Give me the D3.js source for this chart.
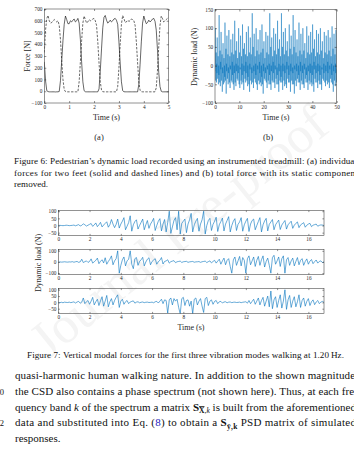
<!DOCTYPE html>
<html>
<head>
<meta charset="utf-8">
<script src="https://cdn.jsdelivr.net/npm/d3@7"></script>
<style>
  body { margin: 0; background: #fff; }
  svg { display: block; }
  text { font-family: "Liberation Serif", "DejaVu Serif", serif; }
</style>
</head>
<body>
<script>
// ---- Figure 6a: foot forces [N], sampled every 0.05 s from 0 to 5 s
const footStep = 0.05;
const footSolid = [250, 90, 5, -3, -5, -5, -5, -5, -5, -6, -5, -5, -2, 90, 260, 430, 570, 640, 610, 575,
  575, 600, 590, 605, 615, 590, 600, 620, 580, 440, 250, 80, 5, -4, -5, -5, -5, -5, -5, -5,
  -5, -5, -5, -5, 20, 170, 360, 540, 630, 645, 605, 580, 590, 605, 590, 600, 615, 620, 605, 570,
  420, 240, 80, 5, -4, -5, -5, -5, -5, -5, -5, -5, -5, -5, -5, -5, 60, 230, 420, 580,
  640, 605, 575, 585, 605, 590, 600, 615, 620, 595, 520, 350, 160, 40, 0, -5, -5, -5, -5, -5, -5];
const footDashed = [330, 520, 620, 645, 600, 580, 585, 600, 610, 600, 590, 600, 560, 440, 260, 100, 15, -3, -5, -5,
  -5, -5, -5, -5, -5, -5, -5, -5, 80, 250, 430, 580, 640, 610, 580, 590, 610, 600, 605, 615,
  620, 600, 560, 420, 240, 80, 10, -4, -5, -5, -5, -5, -5, -5, -5, -5, -5, -5, -5, 40,
  200, 400, 570, 645, 620, 585, 590, 605, 595, 600, 615, 610, 600, 560, 420, 240, 80, 8, -4, -5,
  -5, -5, -5, -5, -5, -5, -5, -5, -5, -5, 30, 180, 380, 560, 640, 620, 590, 600, 610, 620, 630];
const forceTicks = [-100, 0, 100, 200, 300, 400, 500, 600, 700];
const footTimeTicks = [0, 1, 2, 3, 4, 5];

// ---- Figure 6b: total dynamic load [N], sampled every 0.1 s from 0 to 50 s
const totalStep = 0.1;
const totalLoad = [
  -15, 100, 20, -40, -10, 35, -45, 5,   -20, 75, 10, -35, -15, 25, -50, 0,
  -25, 135, 15, -45, -20, 40, -55, 10,  -10, 90, 25, -40, -5, 30, -70, -5,
  -20, 60, 5, -50, -15, 20, -45, 0,     -30, 115, 20, -40, -10, 45, -75, 5,
  -15, 80, 10, -35, -20, 30, -50, -5,   -20, 95, 15, -45, -10, 25, -60, 0,
  -10, 70, 20, -40, -15, 35, -45, 10,   -25, 85, 10, -50, -20, 30, -65, 0,
  -20, 120, 25, -45, -5, 40, -55, 5,    -15, 65, 5, -35, -15, 20, -40, 0,
  -20, 100, 20, -50, -10, 35, -60, -5,  -10, 80, 15, -40, -20, 25, -50, 5,
  -25, 110, 25, -45, -10, 45, -65, 0,   -15, 60, 10, -35, -15, 30, -45, 10,
  -20, 90, 15, -40, -5, 25, -55, 0,     -30, 105, 20, -50, -15, 35, -70, 5,
  -10, 75, 10, -40, -20, 30, -50, -5,   -20, 140, 25, -45, -10, 50, -60, 0,
  -15, 85, 15, -35, -15, 25, -45, 5,    -25, 100, 20, -50, -5, 40, -65, 0,
  -10, 70, 10, -40, -20, 30, -50, 10,   -20, 95, 20, -45, -10, 35, -55, 0,
  -30, 110, 15, -50, -15, 45, -75, 5,   -15, 65, 10, -35, -10, 20, -40, -5,
  -20, 90, 25, -45, -20, 35, -60, 0,    -10, 80, 15, -40, -5, 30, -50, 5,
  -25, 140, 20, -50, -15, 50, -65, 0,   -15, 75, 10, -40, -10, 25, -45, 10,
  -20, 100, 20, -45, -20, 40, -60, 0,   -10, 85, 15, -35, -5, 30, -50, -5,
  -25, 120, 25, -50, -15, 45, -70, 5,   -15, 70, 5, -40, -10, 25, -45, 0,
  -30, 140, 20, -45, -20, 50, -65, 5,   -15, 90, 15, -40, -10, 30, -55, 0,
  -20, 100, 20, -50, -15, 40, -60, 10,  -10, 65, 10, -35, -5, 25, -45, 0,
  -25, 110, 25, -45, -20, 45, -70, 5,   -15, 80, 15, -40, -10, 30, -50, -5,
  -20, 135, 20, -50, -15, 50, -75, 0,   -10, 95, 10, -40, -5, 35, -55, 5,
  -15, 70, 15, -35, -20, 25, -45, 0,    -25, 115, 25, -45, -10, 40, -65, 10,
  -15, 85, 10, -40, -15, 30, -50, 0,    -20, 100, 20, -50, -5, 40, -60, 5,
  -10, 60, 5, -35, -15, 20, -45, -5,    -25, 105, 20, -45, -10, 35, -65, 0,
  -15, 80, 15, -40, -20, 30, -50, 5,    -20, 90, 20, -45, -10, 35, -55, 0,
  -25, 110, 25, -50, -15, 45, -70, 10,  -10, 70, 10, -35, -5, 25, -45, 0,
  -20, 95, 15, -45, -20, 35, -60, 5,    -15, 85, 20, -40, -10, 30, -50, 0,
  -25, 100, 25, -50, -15, 40, -65, -5,  -10, 65, 10, -35, -5, 20, -40, 5,
  -20, 90, 15, -45, -20, 35, -55, 0,    -15, 80, 20, -40, -10, 30, -50, 10,
  -20, 95, 15, -45, -15, 40, -60, 0,    -10, 75, 10, -35, -5, 25, -45, 5,
  -25, 105, 25, -50, -20, 45, -70, 0,   -15, 85, 15, -40, -10, 30, -55, 5,
  -20, 95, 20, -45, -10];
const dynTicks = [-100, -50, 0, 50, 100, 150];
const totalTimeTicks = [0, 10, 20, 30, 40, 50];

// ---- Figure 7: modal forces [N], sampled every 0.1 s from 0 to 17 s
const modalStep = 0.1;
const mode1 = [
  0, 1, 0, -1, 0, 2, 1, -1, 0, 1,
  3, -2, 2, 6, -3, 1, 12, 5, -4, 2,
  8, 14, -6, 4, 18, -8, 5, 22, -10, 3,
  15, 26, -12, 6, 42, 10, -15, 8, 45, -18,
  10, 30, 55, -30, -5, 20, 68, -40, 5, 28,
  40, -25, 0, 22, 45, -30, 5, 35, -20, 10,
  28, 50, -35, 0, 30, 48, -38, 10, 42, -45,
  20, 100, -55, -10, 35, 55, -30, 100, -60, 15,
  30, 45, -50, 10, 40, 85, -45, 5, 30, 50,
  -40, 10, 40, 100, -60, 0, 35, 50, -35, 8,
  30, 58, -42, 5, 28, 52, -38, 10, 35, 62,
  -45, 0, 30, 48, -35, 8, 25, 55, -40, 5,
  30, 50, -42, 10, 35, 45, -30, 0, 28, 55,
  -45, 5, 32, 50, -38, 8, 25, 42, -30, 5,
  22, 38, -28, 3, 20, 35, -25, 5, 18, 30,
  -20, 2, 15, 25, -15, 4, 12, 20, -12, 2,
  10, 15, -8, 2, 6, 10, -5, 1, 4, 3,
  0];
const mode2 = [
  0, 1, -1, 0, 2, 0, -1, 1, 0, 3,
  -2, 2, 5, -3, 1, 25, -5, 3, 10, -4,
  5, 28, -10, 2, 15, 35, -15, 6, 20, -8,
  38, -20, 5, 25, 55, -25, 10, 30, 100, -100,
  -30, 20, 45, -35, 10, 25, 100, -20, -60, 30,
  40, -30, 5, 20, 42, -35, 0, 25, 38, -25,
  5, 18, 30, -20, 3, 15, 40, -18, 5, 10,
  20, -10, 3, 8, 12, -6, 2, 5, 8, -4,
  2, 4, 6, -3, 1, 3, 5, -2, 1, 2,
  4, -3, 2, 5, 8, -5, 3, 10, -8, 5,
  15, -10, 8, 25, -20, 10, 35, -25, 15, 30,
  -40, -100, 20, 45, -30, 10, 50, -35, 40, 15,
  -100, 30, 55, -25, 10, 45, -40, 15, 50, -30,
  20, 55, -45, 5, 35, -30, -100, 40, 60, -20,
  10, 45, -40, 30, 55, -100, 20, 40, -30, 10,
  35, -35, 5, 40, -25, 15, 30, -30, 5, 28,
  -20, 8, 22, -15, 3, 18, -10, 5, 10, -5,
  2];
const mode3 = [
  0, -2, 1, -3, 2, 0, -1, 2, -2, 1,
  4, -5, 3, 8, -6, 2, 35, -10, 5, 15,
  -15, 10, 40, -20, 5, 25, -25, 12, 45, -30,
  10, 55, -35, 5, 30, -20, 15, 40, 60, -40,
  10, 25, -15, 5, 15, -10, 3, 8, 12, -6,
  2, 5, -3, 1, 3, -2, 1, 2, -1, 0,
  2, -3, 5, 8, -5, 10, 25, -10, 20, 15,
  -85, 20, 35, -20, 30, 10, 25, -40, -90, 30,
  40, -25, 15, 20, -30, 10, -90, 25, 35, -20,
  10, 30, -30, -80, 30, 40, -25, 10, 20, -15,
  8, 15, -10, 5, 8, -5, 3, 5, -3, 2,
  3, -2, 1, 2, -1, 0, 2, -2, 1, 3,
  5, -6, 15, -10, 8, 25, -15, 10, 35, -20,
  15, 40, -30, 10, 50, -35, 90, -50, 20, 45,
  -40, 15, 60, -45, 10, 100, -55, 20, 55, -40,
  10, 45, -35, 5, 60, -40, 15, 35, -30, 8,
  30, -25, 5, 20, -18, 3, 15, -10, 2, 8,
  0];
const modalTimeTicks = [0, 2, 4, 6, 8, 10, 12, 14, 16];
const modeTicks = [[-50, 0, 50, 100], [-100, 0, 100], [-50, 0, 50, 100]];
const modeDomains = [[-70, 105], [-112, 112], [-88, 110]];

// ---- page
const W = 354, H = 464;
const ink = "#262626", matBlue = "#0072BD";
const intFmt = d3.format("d");

const svg = d3.select("body").append("svg")
  .attr("width", W).attr("height", H)
  .style("background", "#fff");

// faint watermark behind the page
svg.append("text")
  .attr("transform", "translate(182,236) rotate(-39)")
  .attr("text-anchor", "middle")
  .attr("dominant-baseline", "middle")
  .style("font-size", "52px")
  .style("fill", "#f4f4f4")
  .text("Journal Pre-proof");

const defs = svg.append("defs");
let clipCount = 0;

// MATLAB-like box axes with inward ticks on all four sides
function boxAxes(g, x, y, xTicks, yTicks, tickLen, fontSize) {
  const [xl, xr] = x.range(), [yb, yt] = y.range();
  const style = sel => {
    sel.select(".domain").remove();
    sel.selectAll("line").attr("stroke", ink).attr("stroke-width", 0.5);
    sel.attr("font-family", null).attr("font-size", null);
    sel.selectAll("text").style("font-size", fontSize + "px").attr("fill", ink);
  };
  g.append("g").attr("transform", `translate(0,${yb})`)
    .call(d3.axisBottom(x).tickValues(xTicks).tickFormat(intFmt).tickSize(-tickLen).tickPadding(2.2)).call(style);
  g.append("g").attr("transform", `translate(0,${yt})`)
    .call(d3.axisTop(x).tickValues(xTicks).tickSize(-tickLen).tickFormat("")).call(style);
  g.append("g").attr("transform", `translate(${xl},0)`)
    .call(d3.axisLeft(y).tickValues(yTicks).tickFormat(intFmt).tickSize(-tickLen).tickPadding(1.8)).call(style);
  g.append("g").attr("transform", `translate(${xr},0)`)
    .call(d3.axisRight(y).tickValues(yTicks).tickSize(-tickLen).tickFormat("")).call(style);
  g.append("rect")
    .attr("x", xl).attr("y", yt).attr("width", xr - xl).attr("height", yb - yt)
    .attr("fill", "none").attr("stroke", ink).attr("stroke-width", 0.5);
}

function clipFor(x, y) {
  const id = "clip" + (clipCount++);
  const [xl, xr] = x.range(), [yb, yt] = y.range();
  defs.append("clipPath").attr("id", id).append("rect")
    .attr("x", xl).attr("y", yt).attr("width", xr - xl).attr("height", yb - yt);
  return `url(#${id})`;
}

function series(g, values, step, x, y, clip) {
  const line = d3.line().x((d, i) => x(i * step)).y(d => y(d));
  return g.append("path").datum(values)
    .attr("clip-path", clip).attr("fill", "none").attr("d", line);
}

function label(text, x, y, size, rotate) {
  return svg.append("text")
    .attr("transform", `translate(${x},${y})` + (rotate ? " rotate(-90)" : ""))
    .attr("text-anchor", "middle").attr("fill", ink)
    .style("font-size", size + "px").text(text);
}

// ---- Figure 6a
{
  const g = svg.append("g");
  const x = d3.scaleLinear().domain([0, 5]).range([44.3, 168.7]);
  const y = d3.scaleLinear().domain([-100, 700]).range([103, 9]);
  const clip = clipFor(x, y);
  series(g, footSolid, footStep, x, y, clip).attr("stroke", "#000").attr("stroke-width", 0.6);
  series(g, footDashed, footStep, x, y, clip).attr("stroke", "#000").attr("stroke-width", 0.6)
    .attr("stroke-dasharray", "2.4,1.4");
  boxAxes(g, x, y, footTimeTicks, forceTicks, 2, 5.3);
  label("Time (s)", 106.5, 119.5, 8);
  label("Force [N]", 29.5, 56, 8, true);
  label("(a)", 99, 140, 8.5);
}

// ---- Figure 6b
{
  const g = svg.append("g");
  const x = d3.scaleLinear().domain([0, 50]).range([215, 336.7]);
  const y = d3.scaleLinear().domain([-100, 150]).range([103, 9.5]);
  const clip = clipFor(x, y);
  series(g, totalLoad, totalStep, x, y, clip).attr("stroke", matBlue).attr("stroke-width", 0.45);
  boxAxes(g, x, y, totalTimeTicks, dynTicks, 2, 5.3);
  label("Time (s)", 276, 119.5, 8);
  label("Dynamic load (N)", 196.5, 57, 8, true);
  label("(b)", 268, 140, 8.5);
}

// ---- Figure 6 caption
const capFont = 9.1;
function textLine(str, x, y, size, len) {
  const t = svg.append("text").attr("x", x).attr("y", y).attr("fill", "#111")
    .style("font-size", size + "px").text(str);
  if (len) t.attr("textLength", len).attr("lengthAdjust", "spacing");
  return t;
}
textLine("Figure 6: Pedestrian\u2019s dynamic load recorded using an instrumented treadmill: (a) individual", 14, 164, capFont, 343);
textLine("forces for two feet (solid and dashed lines) and (b) total force with its static component", 14, 175.5, capFont, 344);
textLine("removed.", 14, 187, capFont);

// ---- Figure 7
{
  const modes = [mode1, mode2, mode3];
  const tops = [210.5, 249.5, 288.5];
  const x = d3.scaleLinear().domain([0, 17]).range([58.3, 324]);
  modes.forEach((m, k) => {
    const g = svg.append("g");
    const y = d3.scaleLinear().domain(modeDomains[k]).range([tops[k] + 25, tops[k]]);
    const clip = clipFor(x, y);
    series(g, m, modalStep, x, y, clip).attr("stroke", matBlue).attr("stroke-width", 0.6);
    boxAxes(g, x, y, modalTimeTicks, modeTicks[k], 1.6, 5.3);
  });
  label("Time (s)", 191, 330, 8);
  label("Dynamic load (N)", 40.5, 263, 8, true);
}

textLine("Figure 7: Vertical modal forces for the first three vibration modes walking at 1.20\u2009Hz.", 27, 357.5, capFont, 317);

// ---- body text
const bodyFont = 11;
const bodyY = [379, 394.8, 410.6, 426.4, 442.2];
textLine("quasi-harmonic human walking nature. In addition to the shown magnitude,", 15, bodyY[0], bodyFont, 343);
textLine("the CSD also contains a phase spectrum (not shown here). Thus, at each fre-", 15, bodyY[1], bodyFont, 343);
{
  const t = svg.append("text").attr("x", 15).attr("y", bodyY[2]).attr("fill", "#111")
    .style("font-size", bodyFont + "px").attr("textLength", 341).attr("lengthAdjust", "spacing");
  t.append("tspan").text("quency band ");
  t.append("tspan").style("font-style", "italic").text("k");
  t.append("tspan").text(" of the spectrum a matrix ");
  t.append("tspan").style("font-weight", "bold").text("S");
  t.append("tspan").attr("dy", 2.5).style("font-size", "7.5px").style("font-weight", "bold")
    .style("text-decoration", "overline").text("X");
  t.append("tspan").style("font-size", "7.5px").text(",");
  t.append("tspan").style("font-size", "7.5px").style("font-style", "italic").text("k");
  t.append("tspan").attr("dy", -2.5).text(" is built from the aforementioned");
}
{
  const t = svg.append("text").attr("x", 15).attr("y", bodyY[3]).attr("fill", "#111")
    .style("font-size", bodyFont + "px").attr("textLength", 341).attr("lengthAdjust", "spacing");
  t.append("tspan").text("data and substituted into Eq. (");
  t.append("tspan").attr("fill", "#2222bb").text("8");
  t.append("tspan").text(") to obtain a ");
  t.append("tspan").style("font-weight", "bold").text("S");
  t.append("tspan").attr("dy", 2.5).style("font-size", "7.5px").style("font-weight", "bold").text("\u0233,k");
  t.append("tspan").attr("dy", -2.5).text(" PSD matrix of simulated");
}
textLine("responses.", 15, bodyY[4], bodyFont);

// line numbers in the margin, cut by the page edge
svg.append("text").attr("x", 4).attr("y", bodyY[1]).attr("text-anchor", "end")
  .attr("fill", "#111").style("font-size", "8.5px").text("310");
svg.append("text").attr("x", 4).attr("y", bodyY[3]).attr("text-anchor", "end")
  .attr("fill", "#111").style("font-size", "8.5px").text("312");
</script>
</body>
</html>
